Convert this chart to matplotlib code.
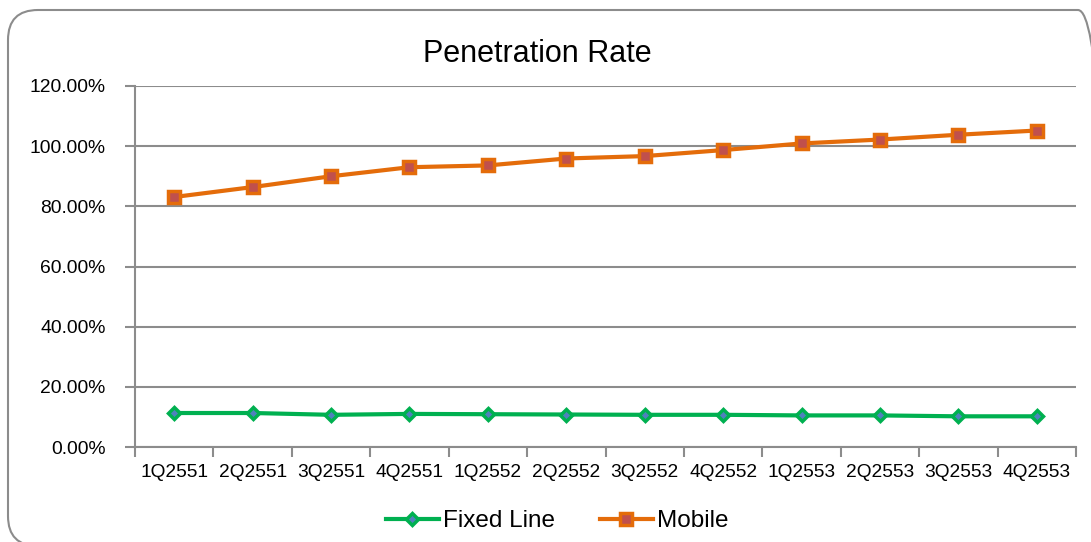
import matplotlib.pyplot as plt
from matplotlib.patches import FancyBboxPatch
from matplotlib.transforms import IdentityTransform
from matplotlib.ticker import PercentFormatter, FixedLocator, NullFormatter

plt.rcParams['font.family'] = ['Liberation Sans', 'DejaVu Sans']

# Data
quarters = ['1Q2551', '2Q2551', '3Q2551', '4Q2551', '1Q2552', '2Q2552',
            '3Q2552', '4Q2552', '1Q2553', '2Q2553', '3Q2553', '4Q2553']
fixed_line = [11.3, 11.3, 10.7, 11.0, 10.9, 10.8, 10.7, 10.7, 10.5, 10.5, 10.2, 10.2]
mobile = [83.1, 86.4, 90.0, 93.0, 93.6, 95.9, 96.7, 98.7, 100.9, 102.2, 103.8, 105.2]

W, H = 1091, 542
fig = plt.figure(figsize=(W / 100, H / 100), dpi=100)

# rounded chart-area border in pixels (runs off right/bottom edge)
border = FancyBboxPatch((8, -4), 1100, 536,
                        boxstyle="round,pad=0,rounding_size=30",
                        transform=IdentityTransform(), fill=False,
                        edgecolor='#8c8c8c', linewidth=1.5)
fig.patches.append(border)

ax = fig.add_axes([135 / W, 1 - 447 / H, 941 / W, 361 / H])
x = range(len(quarters))

ax.plot(x, fixed_line, color='#00B050', linewidth=3, marker='D', markersize=6,
        markerfacecolor='#4F81BD', markeredgecolor='#00B050', markeredgewidth=2.5,
        label='Fixed Line')
ax.plot(x, mobile, color='#E46C0A', linewidth=3, marker='s', markersize=8,
        markerfacecolor='#C0504D', markeredgecolor='#E46C0A', markeredgewidth=2.5,
        label='Mobile')

ax.set_xlim(-0.5, len(quarters) - 0.5)
ax.set_ylim(0, 120)
ax.set_yticks(range(0, 121, 20))
ax.yaxis.set_major_formatter(PercentFormatter(decimals=2))
ax.grid(axis='y', color='#8c8c8c', linewidth=1.5)
ax.set_axisbelow(True)

ax.set_xticks(list(x))
ax.set_xticklabels(quarters, fontsize=13.8)
ax.xaxis.set_minor_locator(FixedLocator([i - 0.5 for i in range(len(quarters) + 1)]))
ax.xaxis.set_minor_formatter(NullFormatter())
ax.tick_params(axis='x', which='major', length=0, pad=12)
ax.tick_params(axis='x', which='minor', length=7, width=1.5, color='#8c8c8c')
ax.tick_params(axis='y', length=7, width=1.5, color='#8c8c8c', labelsize=13.9, pad=14)

for s in ['top', 'right']:
    ax.spines[s].set_visible(False)
for s in ['left', 'bottom']:
    ax.spines[s].set_color('#8c8c8c')
    ax.spines[s].set_linewidth(1.5)

fig.text(537 / W, 1 - 54 / H, 'Penetration Rate', fontsize=22, ha='center', va='center')

fig.legend(loc='center', bbox_to_anchor=(557 / W, 1 - 521 / H), ncol=2, frameon=False,
           fontsize=17.5, handlelength=2.2, handletextpad=0.15, columnspacing=1.85)

fig.savefig('out.png', dpi=100)
